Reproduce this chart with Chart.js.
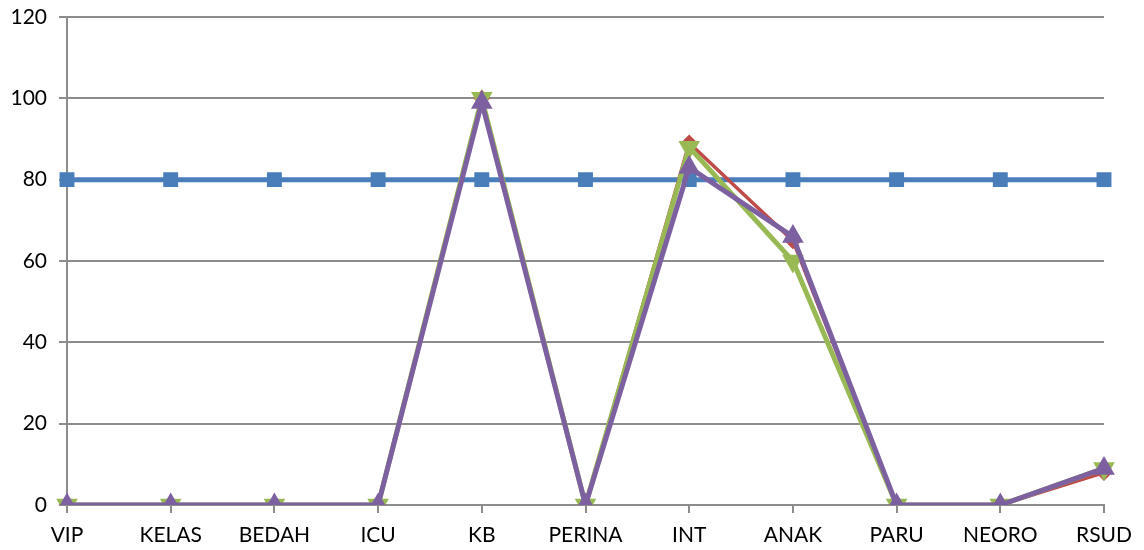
<!DOCTYPE html>
<html><head><meta charset="utf-8">
<script src="https://cdn.jsdelivr.net/npm/chart.js@4"></script>
<style>html,body{margin:0;padding:0;background:#fff}#w{width:1144px;height:550px}</style>
</head><body><div id="w"><canvas id="c"></canvas></div>
<script>
const categories = ["VIP","KELAS","BEDAH","ICU","KB","PERINA","INT","ANAK","PARU","NEORO","RSUD"];
const seriesBlue = [80,80,80,80,80,80,80,80,80,80,80];
const seriesRed = [0,0,0,0,100,0,89,65,0,0,8];
const seriesGreen = [0,0,0,0,100,0,88,60,0,0,9];
const seriesPurple = [0,0,0,0,99,0,83,66,0,0,9];
const yTicks = [0,20,40,60,80,100,120];

const grid = '#8c8c8c';
new Chart(document.getElementById('c'), {
  type: 'line',
  data: {
    labels: categories,
    datasets: [
      {data: seriesBlue, borderColor:'#4a7ebb', backgroundColor:'#4a7ebb', borderWidth:5, pointStyle:'rect', pointRadius:7, order:4},
      {data: seriesRed, borderColor:'#be4b48', backgroundColor:'#be4b48', borderWidth:3.5, pointStyle:'rectRot', pointRadius:6, order:3},
      {data: seriesGreen, borderColor:'#98b954', backgroundColor:'#98b954', borderWidth:5, pointStyle:'triangle', rotation:180, pointRadius:7.5, order:2},
      {data: seriesPurple, borderColor:'#7d60a0', backgroundColor:'#7d60a0', borderWidth:5, pointStyle:'triangle', pointRadius:7.5, order:1}
    ]
  },
  options: {
    responsive:true, maintainAspectRatio:false, animation:false,
    layout:{padding:{top:17,right:40,left:0,bottom:0}},
    plugins:{legend:{display:false}, tooltip:{enabled:false}},
    elements:{line:{tension:0}},
    scales:{
      x:{
        offset:false,
        grid:{display:true, drawOnChartArea:false, drawTicks:true, tickLength:8, color:grid, lineWidth:2},
        border:{display:true, color:grid, width:2},
        ticks:{color:'#000', font:{family:'Lato', size:21}, padding:10, maxRotation:0, autoSkip:false},
        afterFit(s){ s.height = 45; s.paddingLeft = 0; s.paddingRight = 0; }
      },
      y:{
        min:0, max:120,
        afterBuildTicks(s){ s.ticks = yTicks.map(v=>({value:v})); },
        grid:{color:grid, lineWidth:2, tickLength:8},
        border:{display:true, color:grid, width:2},
        ticks:{color:'#000', font:{family:'Lato', size:21}, padding:12},
        afterFit(s){ s.width = 67; s.paddingTop = 0; s.paddingBottom = 0; }
      }
    }
  }
});
</script></body></html>
